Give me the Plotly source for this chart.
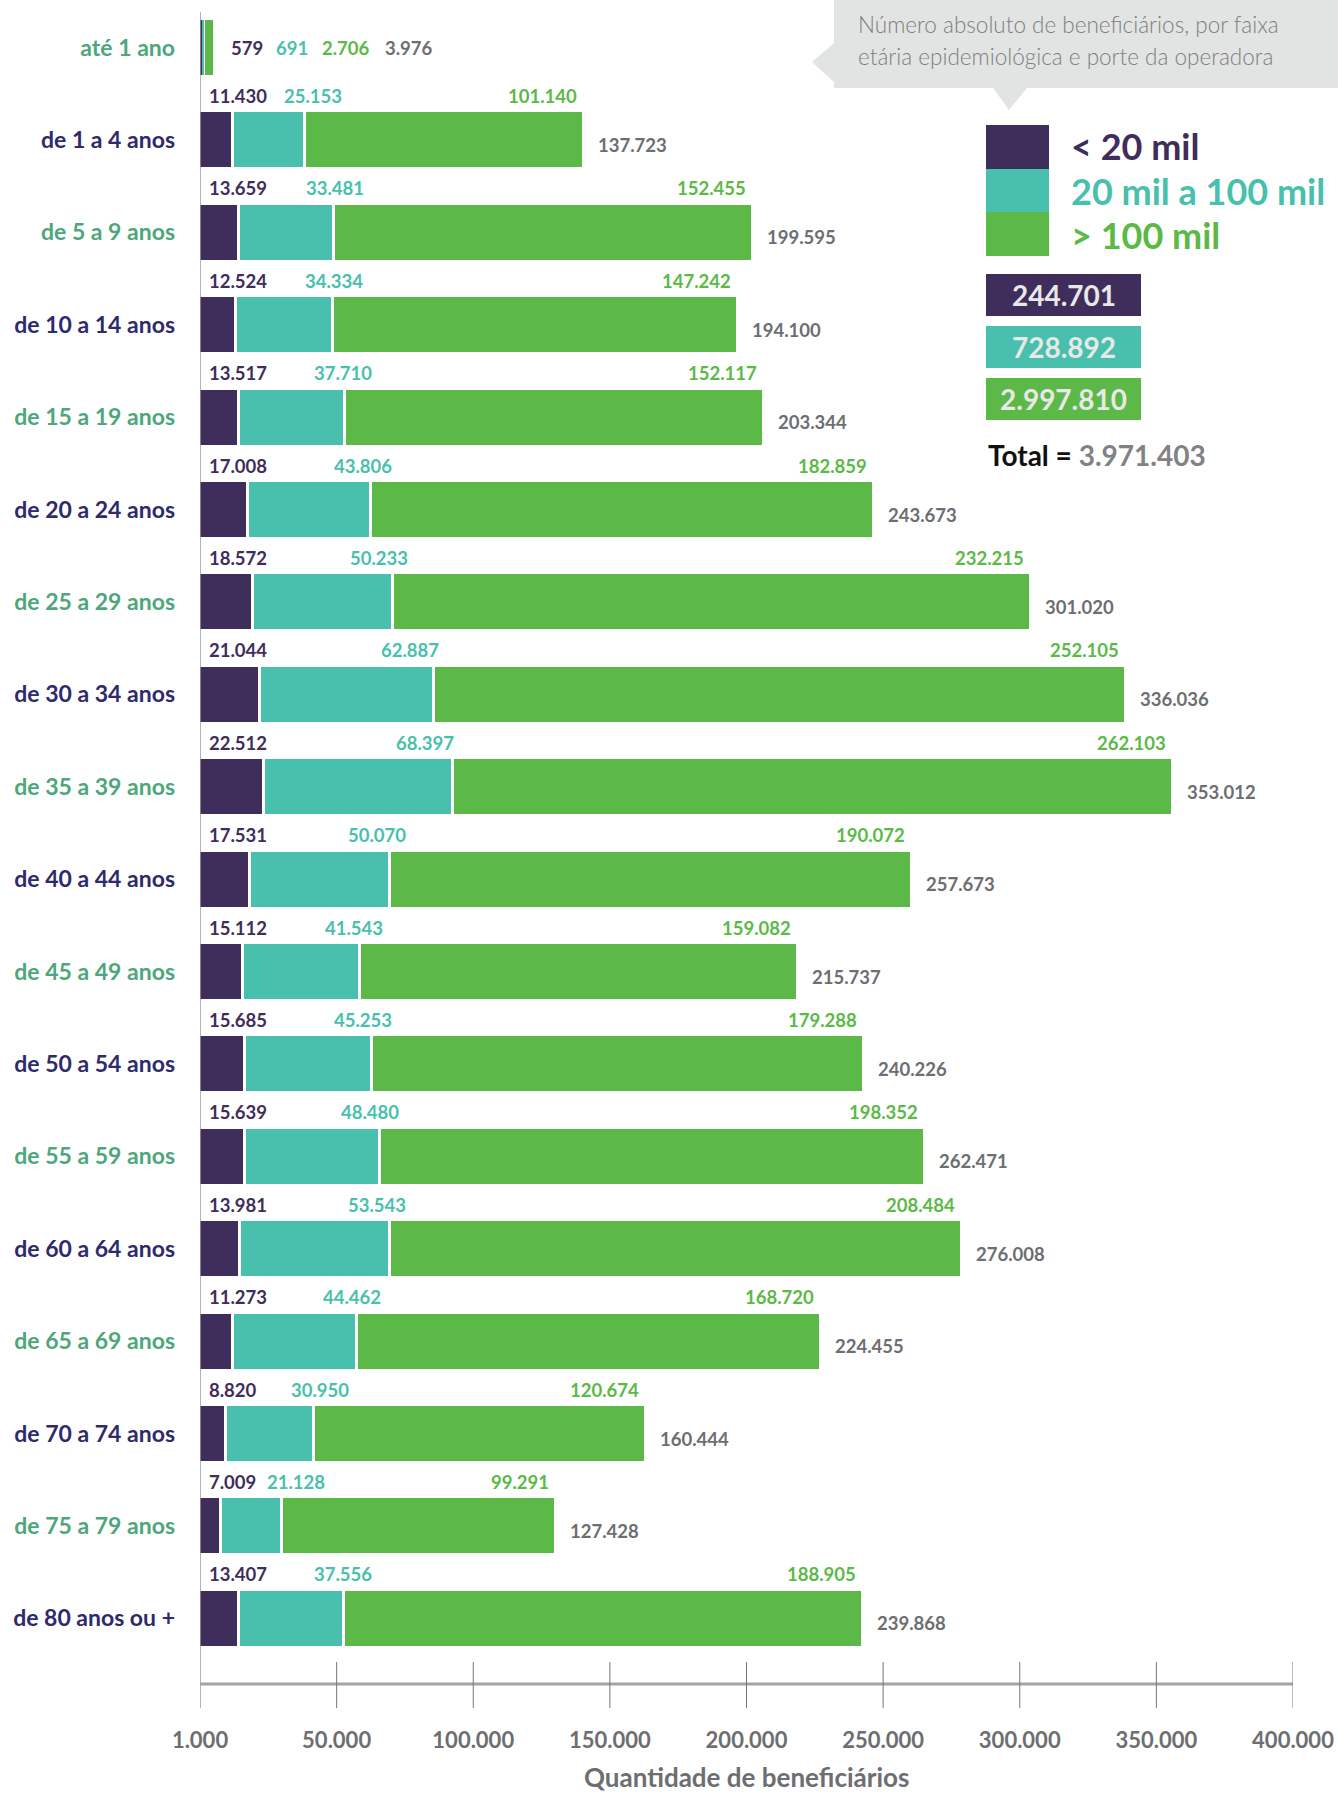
import plotly.graph_objects as go

# ---------------- data ----------------
faixas = ["até 1 ano", "de 1 a 4 anos", "de 5 a 9 anos", "de 10 a 14 anos", "de 15 a 19 anos",
          "de 20 a 24 anos", "de 25 a 29 anos", "de 30 a 34 anos", "de 35 a 39 anos",
          "de 40 a 44 anos", "de 45 a 49 anos", "de 50 a 54 anos", "de 55 a 59 anos",
          "de 60 a 64 anos", "de 65 a 69 anos", "de 70 a 74 anos", "de 75 a 79 anos",
          "de 80 anos ou +"]
pequeno = [579, 11430, 13659, 12524, 13517, 17008, 18572, 21044, 22512, 17531, 15112,
           15685, 15639, 13981, 11273, 8820, 7009, 13407]
medio = [691, 25153, 33481, 34334, 37710, 43806, 50233, 62887, 68397, 50070, 41543,
         45253, 48480, 53543, 44462, 30950, 21128, 37556]
grande = [2706, 101140, 152455, 147242, 152117, 182859, 232215, 252105, 262103, 190072,
          159082, 179288, 198352, 208484, 168720, 120674, 99291, 188905]
totais = [3976, 137723, 199595, 194100, 203344, 243673, 301020, 336036, 353012, 257673,
          215737, 240226, 262471, 276008, 224455, 160444, 127428, 239868]
serie_nomes = ["< 20 mil", "20 mil a 100 mil", "> 100 mil"]
serie_totais = [244701, 728892, 2997810]
total_geral = 3971403
x_ticks = [0, 50000, 100000, 150000, 200000, 250000, 300000, 350000, 400000]
x_ticktext = ["1.000", "50.000", "100.000", "150.000", "200.000", "250.000", "300.000",
              "350.000", "400.000"]

# ---------------- style ----------------
C_DARK = "#3f2d5b"
C_TEAL = "#49bfad"
C_GREEN = "#5cb947"
C_GRAY = "#6d6e71"
C_CAT_A = "#4ea67b"
C_CAT_B = "#2e2a6c"
FONT = "Lato"

W, H = 1338, 1797
ML, MR, MT, MB = 200, 45, 0, 89
PW, PH = W - ML - MR, H - MT - MB
XMAX = 400000
UNIT_PER_PX = XMAX / PW


def px(xp):
    return (xp - ML) / PW


def py(yp):
    return 1 - (yp - MT) / PH


def fmt(v):
    return f"{v:,}".replace(",", ".")


n = len(faixas)
idx = list(range(n))
# white separation between segments (pixels -> axis units)
gap = [(1 if i == 0 else 3) * UNIT_PER_PX for i in idx]
bw = 0.595

base_teal = [pequeno[i] + gap[i] for i in idx]
base_green = [base_teal[i] + medio[i] + gap[i] for i in idx]
bar_end = [base_green[i] + grande[i] for i in idx]

fig = go.Figure()
for vals, bases, col, name in zip([pequeno, medio, grande],
                                  [[0] * n, base_teal, base_green],
                                  [C_DARK, C_TEAL, C_GREEN], serie_nomes):
    fig.add_trace(go.Bar(
        y=idx, x=vals, base=bases, orientation="h", name=name, width=bw,
        marker=dict(color=col, line=dict(width=0)),
        hoverinfo="x+name", showlegend=False,
    ))

ann = []
NUMF = dict(family=FONT, size=18.5, weight="bold")
# first row: inline labels
for txt, col, xs in [(fmt(pequeno[0]), C_DARK, 16), (fmt(medio[0]), C_TEAL, 61),
                     (fmt(grande[0]), C_GREEN, 107), (fmt(totais[0]), C_GRAY, 170)]:
    ann.append(dict(x=bar_end[0], y=0, xref="x", yref="y", text=txt, showarrow=False,
                    xanchor="left", yanchor="middle", xshift=xs,
                    font={**NUMF, "color": col}))

for i in idx[1:]:
    t_end = base_teal[i] + medio[i]
    end = bar_end[i]
    ann.append(dict(x=0, y=i, text=fmt(pequeno[i]), showarrow=False, xanchor="left",
                    yanchor="middle", xshift=7, yshift=44, font={**NUMF, "color": C_DARK}))
    tx = max(0.75 * t_end + 24500, t_end)
    ann.append(dict(x=tx, y=i, text=fmt(medio[i]), showarrow=False, xanchor="right",
                    yanchor="middle", yshift=44, font={**NUMF, "color": C_TEAL}))
    ann.append(dict(x=end, y=i, text=fmt(grande[i]), showarrow=False, xanchor="right",
                    yanchor="middle", xshift=-3, yshift=44, font={**NUMF, "color": C_GREEN}))
    ann.append(dict(x=end, y=i, text=fmt(totais[i]), showarrow=False, xanchor="left",
                    yanchor="middle", xshift=14, yshift=-5, font={**NUMF, "color": C_GRAY}))

# axis title
ann.append(dict(x=0.5, y=py(1777), xref="paper", yref="paper", text="Quantidade de beneficiários",
                showarrow=False, xanchor="center", yanchor="middle",
                font=dict(family=FONT, size=26, color=C_GRAY, weight="bold")))

# callout text
for line, yc in [("Número absoluto de beneficiários, por faixa", 25),
                 ("etária epidemiológica e porte da operadora", 57)]:
    ann.append(dict(x=px(856), y=py(yc), xref="paper", yref="paper", text=line,
                    showarrow=False, xanchor="left", yanchor="middle", align="left",
                    font=dict(family=FONT, size=22.5, color="#7d7f81", weight=300)))

# legend labels
for name, col, yc in zip(serie_nomes, [C_DARK, C_TEAL, C_GREEN], [146, 191, 235]):
    ann.append(dict(x=px(1069), y=py(yc), xref="paper", yref="paper", text=name,
                    showarrow=False, xanchor="left", yanchor="middle",
                    font=dict(family=FONT, size=36, color=col, weight="bold")))

shapes = []
# legend squares
for col, (y0, y1) in zip([C_DARK, C_TEAL, C_GREEN], [(125, 169), (169, 212), (212, 256)]):
    shapes.append(dict(type="rect", xref="paper", yref="paper", x0=px(986), x1=px(1049),
                       y0=py(y1), y1=py(y0), fillcolor=col, line=dict(width=0)))
# series totals boxes
for v, col, (y0, y1) in zip(serie_totais, [C_DARK, C_TEAL, C_GREEN],
                            [(274, 316), (326, 368), (378, 420)]):
    shapes.append(dict(type="rect", xref="paper", yref="paper", x0=px(986), x1=px(1141),
                       y0=py(y1), y1=py(y0), fillcolor=col, line=dict(width=0)))
    ann.append(dict(x=px(1063.5), y=py((y0 + y1) / 2), xref="paper", yref="paper", text=fmt(v),
                    showarrow=False, xanchor="center", yanchor="middle",
                    font=dict(family=FONT, size=28, color="#e8e8e8", weight="bold")))
ann.append(dict(x=px(986), y=py(455), xref="paper", yref="paper",
                text=f"<span style='color:#111111'>Total = </span><span style='color:#808285'>{fmt(total_geral)}</span>",
                showarrow=False, xanchor="left", yanchor="middle",
                font=dict(family=FONT, size=28, weight="bold")))

# callout box with arrows
path = (f"M {px(834)} {py(0)} L {px(1338)} {py(0)} L {px(1338)} {py(88)} "
        f"L {px(1027)} {py(88)} L {px(1009)} {py(110)} L {px(993)} {py(88)} "
        f"L {px(834)} {py(88)} L {px(834)} {py(82)} L {px(812)} {py(62)} L {px(834)} {py(43)} Z")
shapes.append(dict(type="path", xref="paper", yref="paper", path=path,
                   fillcolor="#e1e4e3", line=dict(width=0), layer="below"))

# vertical axis line at x=0
shapes.append(dict(type="line", xref="x", yref="paper", x0=0, x1=0, y0=py(1708), y1=py(12),
                   line=dict(color="#9a9a9a", width=1.5)))
# bottom axis line and ticks
shapes.append(dict(type="line", xref="x", yref="paper", x0=x_ticks[0], x1=x_ticks[-1],
                   y0=py(1684), y1=py(1684), line=dict(color="#a3a3a3", width=3)))
for xv in x_ticks[1:]:
    shapes.append(dict(type="line", xref="x", yref="paper", x0=xv, x1=xv,
                       y0=py(1708), y1=py(1662), line=dict(color="#777777", width=1)))

ticktext_y = [f"<span style='color:{C_CAT_A if i % 2 == 0 else C_CAT_B}'>{f}</span>"
              for i, f in enumerate(faixas)]

fig.update_layout(
    width=W, height=H, barmode="overlay", bargap=0,
    margin=dict(l=ML, r=MR, t=MT, b=MB, autoexpand=False),
    plot_bgcolor="white", paper_bgcolor="white",
    annotations=ann, shapes=shapes,
    xaxis=dict(range=[0, XMAX], tickvals=x_ticks, ticktext=x_ticktext, showgrid=False,
               zeroline=False, showline=False, ticks="", ticklabelstandoff=17,
               tickfont=dict(family=FONT, size=22, color=C_GRAY, weight="bold")),
    yaxis=dict(range=[17.97, -0.514], tickvals=idx, ticktext=ticktext_y, showgrid=False,
               zeroline=False, showline=False, ticks="", ticklabelstandoff=24,
               tickfont=dict(family=FONT, size=23, weight="bold")),
)

fig.write_html("out.html", config={"displayModeBar": False},
               post_script="document.body.style.margin='0';document.body.style.overflow='hidden';")
